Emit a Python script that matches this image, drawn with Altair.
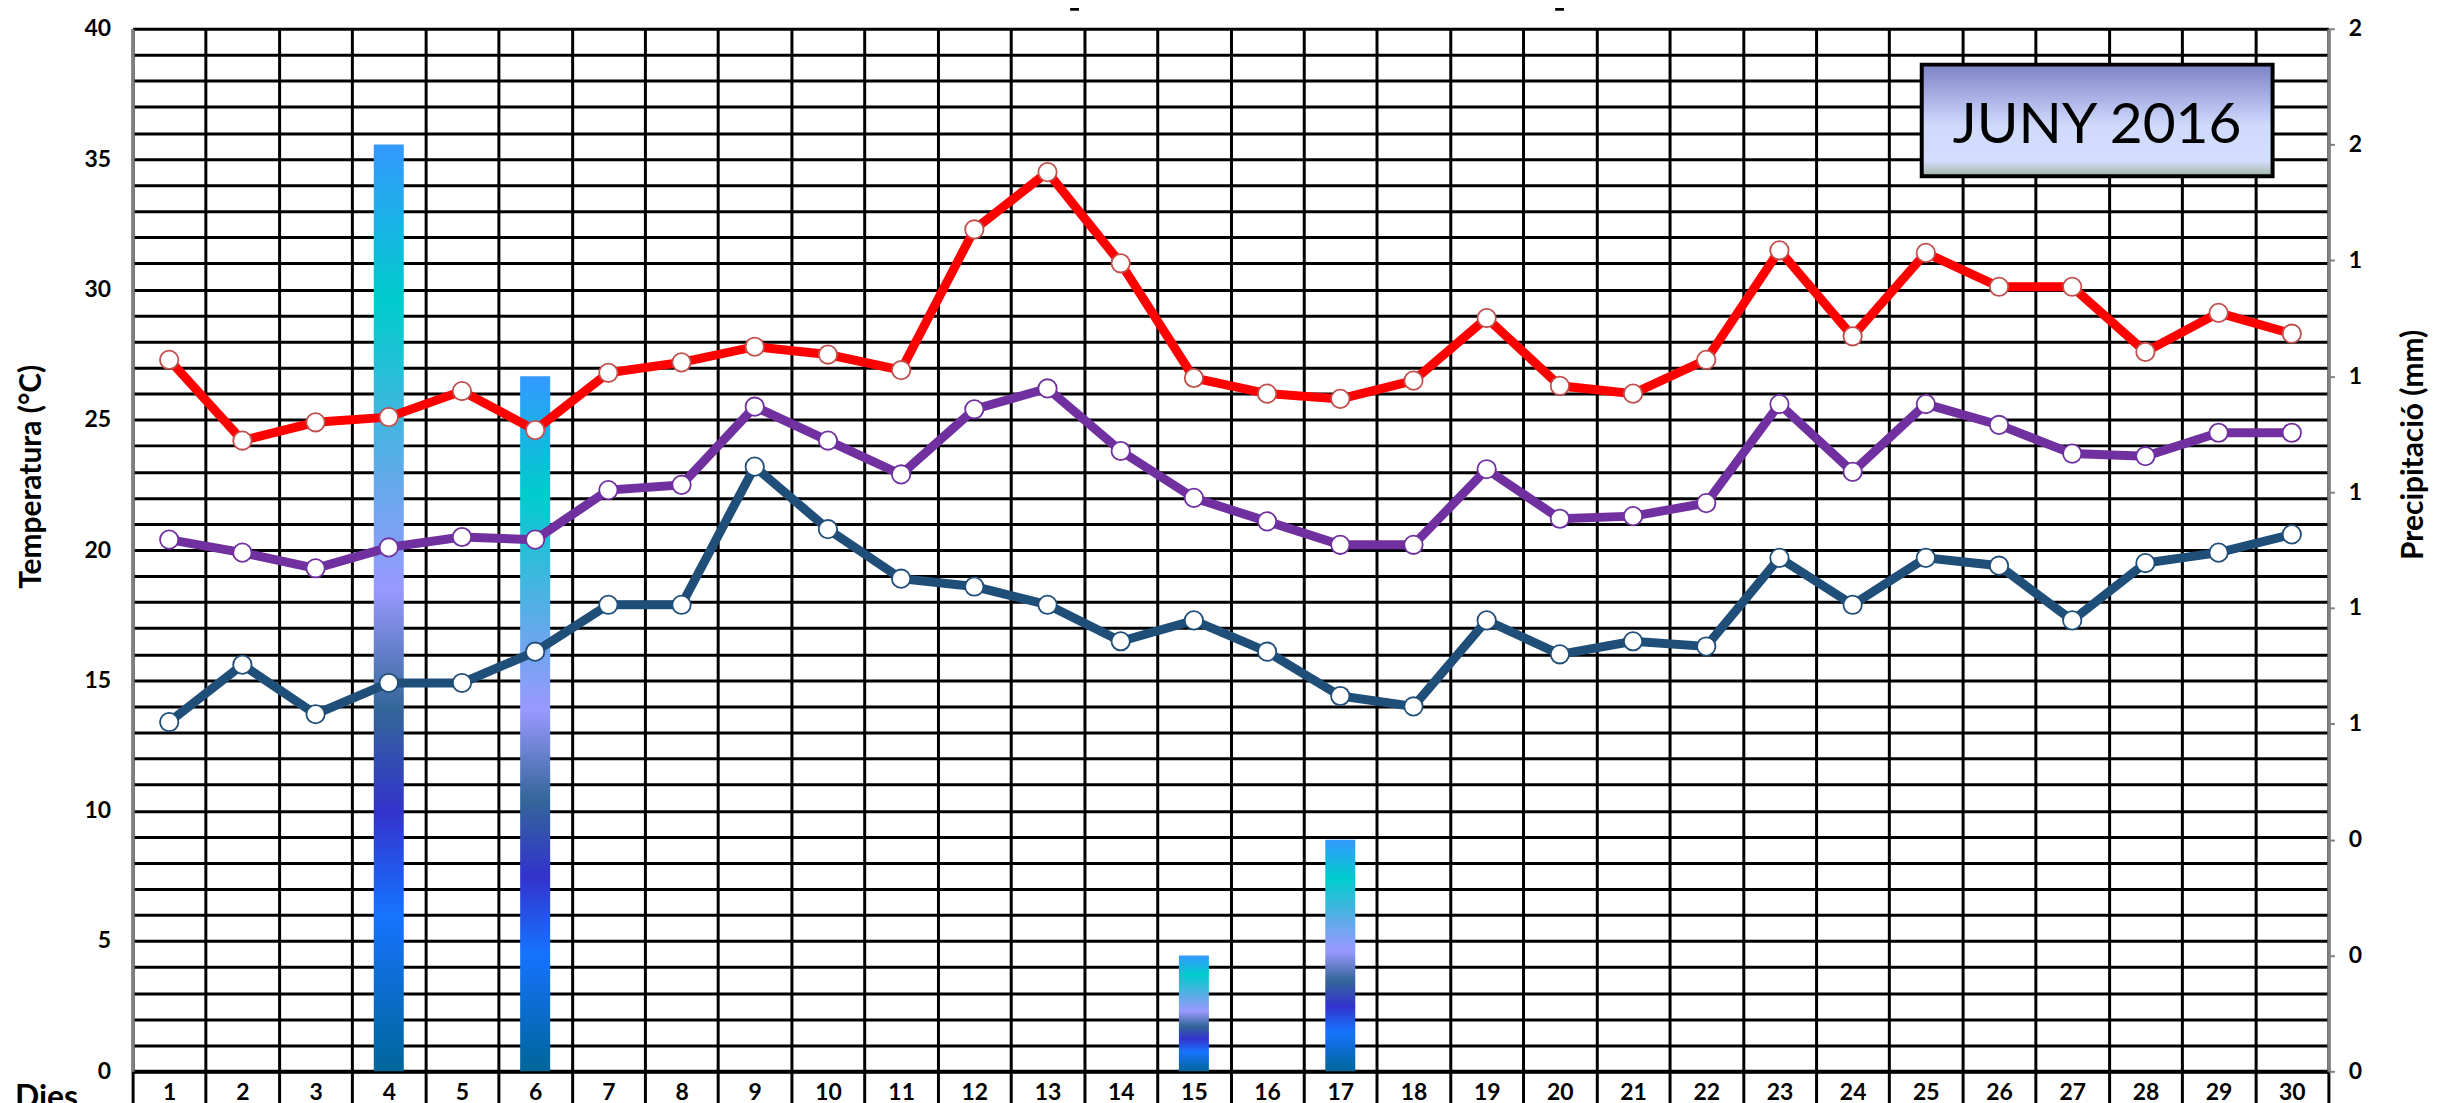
import altair as alt
import pandas as pd

# ---------------- data ----------------
dies = list(range(1, 31))
tmax = [27.3, 24.2, 24.9, 25.1, 26.1, 24.6, 26.8, 27.2, 27.8, 27.5,
        26.9, 32.3, 34.5, 31.0, 26.6, 26.0, 25.8, 26.5, 28.9, 26.3,
        26.0, 27.3, 31.5, 28.2, 31.4, 30.1, 30.1, 27.6, 29.1, 28.3]
tmitjana = [20.4, 19.9, 19.3, 20.1, 20.5, 20.4, 22.3, 22.5, 25.5, 24.2,
            22.9, 25.4, 26.2, 23.8, 22.0, 21.1, 20.2, 20.2, 23.1, 21.2,
            21.3, 21.8, 25.6, 23.0, 25.6, 24.8, 23.7, 23.6, 24.5, 24.5]
tmin = [13.4, 15.6, 13.7, 14.9, 14.9, 16.1, 17.9, 17.9, 23.2, 20.8,
        18.9, 18.6, 17.9, 16.5, 17.3, 16.1, 14.4, 14.0, 17.3, 16.0,
        16.5, 16.3, 19.7, 17.9, 19.7, 19.4, 17.3, 19.5, 19.9, 20.6]
precip = [0, 0, 0, 1.6, 0, 1.2, 0, 0, 0, 0,
          0, 0, 0, 0, 0.2, 0, 0.4, 0, 0, 0,
          0, 0, 0, 0, 0, 0, 0, 0, 0, 0]
series = ["Temperatura màxima", "Temperatura mitjana", "Temperatura mínima"]
line_colors = ["#FF0000", "#7030A0", "#1F4E79"]
marker_strokes = ["#C0504D", "#7030A0", "#1F4E79"]
temp_ticks = list(range(0, 41))
precip_ticks = [0, 0.2, 0.4, 0.6, 0.8, 1.0, 1.2, 1.4, 1.6, 1.8]
month_label = "JUNY 2016"
title_text = "Temperatura i Precipitació"

# ---------------- tables ----------------
temp_df = pd.DataFrame({
    "dia": dies * 3,
    "temp": tmax + tmitjana + tmin,
    "serie": [s for s in series for _ in dies],
})
prec_df = pd.DataFrame({"dia": dies, "prec": precip})
prec_df = prec_df[prec_df["prec"] > 0]
one = pd.DataFrame({"k": [0]})

W, H = 2203, 1046
FONT = "Lato"

xscale = alt.Scale(domain=dies, paddingInner=0, paddingOuter=0)

x_axis = alt.Axis(
    title=None, tickBand="extent", grid=True, gridColor="black", gridWidth=3,
    ticks=True, tickSize=40, tickColor="black", tickWidth=3,
    labelPadding=-30, labelBaseline="top", labelAngle=0,
    labelFont=FONT, labelFontSize=23, labelFontWeight="bold", labelColor="black",
    domain=True, domainColor="black", domainWidth=4,
)

bar_gradient = alt.LinearGradient(
    gradient="linear", x1=0, x2=0, y1=0, y2=1,
    stops=[
        alt.GradientStop(offset=0.0, color="#3399FF"),
        alt.GradientStop(offset=0.17, color="#00CCCC"),
        alt.GradientStop(offset=0.36, color="#62AAEA"),
        alt.GradientStop(offset=0.48, color="#9999FF"),
        alt.GradientStop(offset=0.61, color="#336699"),
        alt.GradientStop(offset=0.72, color="#3333CC"),
        alt.GradientStop(offset=0.83, color="#1673FF"),
        alt.GradientStop(offset=1.0, color="#006699"),
    ],
)

bars = alt.Chart(prec_df).mark_bar(
    width=alt.RelativeBandSize(0.41), color=bar_gradient
).encode(
    x=alt.X("dia:O", scale=xscale, axis=x_axis),
    y=alt.Y("prec:Q", scale=alt.Scale(domain=[0, 1.8], nice=False, zero=True),
            axis=alt.Axis(
                orient="right", values=precip_ticks, format=".0f", grid=False,
                ticks=True, tickSize=6, tickColor="#808080", tickWidth=2,
                domain=True, domainColor="#808080", domainWidth=3,
                labelPadding=14, labelFont=FONT, labelFontSize=23,
                labelFontWeight="bold", labelColor="black", labelOverlap=False,
                title="Precipitació (mm)", titleFont=FONT, titleFontSize=30,
                titleFontWeight="bold", titleColor="black",
                titleAngle=270, titleX=85, titleY=417,
                titleAlign="center", titleBaseline="middle",
            )),
)

temp_y = alt.Y(
    "temp:Q", scale=alt.Scale(domain=[0, 40], nice=False, zero=True),
    axis=alt.Axis(
        orient="left", values=temp_ticks,
        labelExpr="datum.value % 5 == 0 ? datum.label : ''",
        grid=True, gridColor="black", gridWidth=3, ticks=False,
        domain=True, domainColor="#808080", domainWidth=3,
        labelPadding=22, labelFont=FONT, labelFontSize=23,
        labelFontWeight="bold", labelColor="black", labelOverlap=False,
        title="Temperatura (°C)", titleFont=FONT, titleFontSize=30,
        titleFontWeight="bold", titleColor="black",
        titleAngle=270, titleX=-101, titleY=449,
        titleAlign="center", titleBaseline="middle",
    ),
)

lines = alt.Chart(temp_df).mark_line(strokeWidth=9).encode(
    x=alt.X("dia:O", scale=xscale, axis=x_axis),
    y=temp_y,
    color=alt.Color("serie:N", scale=alt.Scale(domain=series, range=line_colors), legend=None),
)

points = alt.Chart(temp_df).mark_point(
    filled=False, fill="white", fillOpacity=1, opacity=1, size=340,
    strokeWidth=1.8, shape="circle",
).encode(
    x=alt.X("dia:O", scale=xscale, axis=x_axis),
    y=temp_y,
    stroke=alt.Stroke("serie:N", scale=alt.Scale(domain=series, range=marker_strokes), legend=None),
)

temps = alt.layer(lines, points)

box_gradient = alt.LinearGradient(
    gradient="linear", x1=0, x2=0, y1=0, y2=1,
    stops=[
        alt.GradientStop(offset=0.0, color="#7C82C4"),
        alt.GradientStop(offset=0.3, color="#AAB2E6"),
        alt.GradientStop(offset=0.55, color="#D0DBFC"),
        alt.GradientStop(offset=0.86, color="#D3DEFF"),
        alt.GradientStop(offset=0.94, color="#B9C7CC"),
        alt.GradientStop(offset=1.0, color="#9DB09D"),
    ],
)

box = alt.Chart(one).mark_rect(
    color=box_gradient, stroke="black", strokeWidth=4
).encode(
    x=alt.value(1795), x2=alt.value(2147), y=alt.value(36), y2=alt.value(148)
)

month_text = alt.Chart(one).mark_text(
    text=month_label, font=FONT, fontSize=57, color="black",
    align="center", baseline="alphabetic",
).encode(x=alt.value(1971), y=alt.value(115))

dies_text = alt.Chart(one).mark_text(
    text="Dies", font=FONT, fontSize=32, fontWeight="bold", color="black",
    align="left", baseline="alphabetic",
).encode(x=alt.value(-118), y=alt.value(1083))

title = alt.Chart(one).mark_text(
    text=title_text, font=FONT, fontSize=72, fontWeight="bold", color="black",
    align="left", baseline="alphabetic",
).encode(x=alt.value(803), y=alt.value(-31))

chart = alt.layer(
    bars, temps, box, month_text, dies_text, title
).resolve_scale(
    y="independent"
).properties(
    width=W, height=H,
    autosize=alt.AutoSizeParams(type="none"),
    padding={"left": 125, "top": 19, "right": 121, "bottom": 40},
).configure_view(stroke=None).configure(background="white")

chart.save("out.html", embed_options={"renderer": "svg", "actions": False})
